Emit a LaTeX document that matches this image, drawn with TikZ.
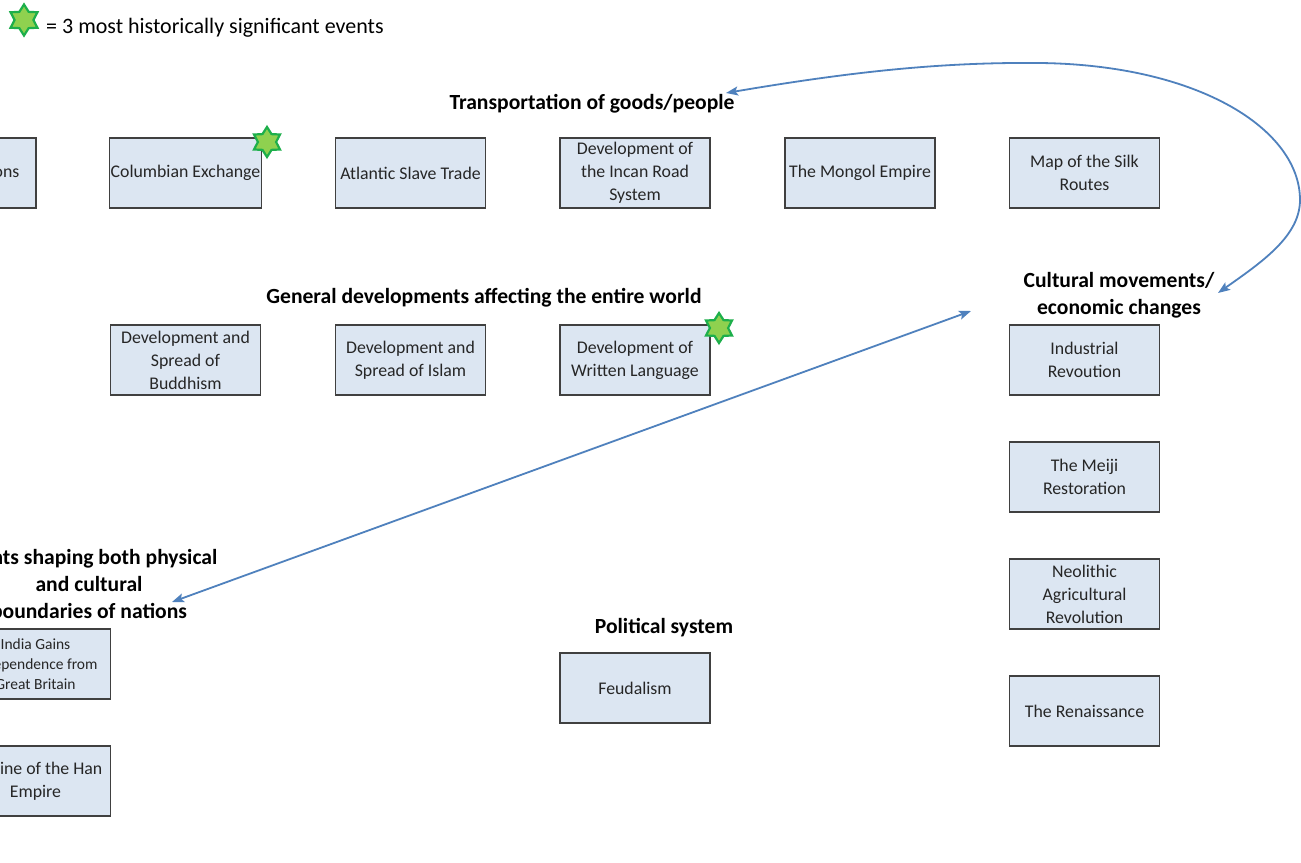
\documentclass[tikz,border=0pt]{standalone}
\usepackage{fontspec}
\setmainfont{Carlito}
\usetikzlibrary{shapes.geometric, arrows.meta}
\definecolor{boxfill}{HTML}{DCE6F2}
\definecolor{boxline}{HTML}{404040}
\definecolor{linkblue}{HTML}{4F81BD}
\definecolor{starfill}{HTML}{8FD14F}
\definecolor{staredge}{HTML}{1DAF4B}
\tikzset{
  event/.style={draw=boxline, fill=boxfill, line width=1.2pt,
    minimum width=150pt, minimum height=70pt, inner sep=1pt,
    align=center, font=\fontsize{17.8}{23}\selectfont, text=black!85},
  smallevent/.style={event, font=\fontsize{15.5}{20}\selectfont},
  heading/.style={align=center, font=\fontsize{21.6}{27}\selectfont\bfseries, inner sep=0pt},
  keystar/.style={star, star points=6, star point ratio=1.65, fill=starfill,
    draw=staredge, line width=2.2pt, minimum size=30pt, inner sep=0pt},
  link/.style={draw=linkblue, line width=1.8pt,
    {Stealth[length=12pt,width=9pt,inset=2.5pt]}-{Stealth[length=12pt,width=9pt,inset=2.5pt]}}
}
\begin{document}
\begin{tikzpicture}[x=1pt, y=-1pt]
\useasboundingbox (0,0) rectangle (1301,862);
\fill[white] (0,0) rectangle (1301,862);
\clip (0,0) rectangle (1301,862);

% legend
\node[keystar, minimum size=31pt] (legstar) at (24,20) {};
\node[anchor=west, font=\fontsize{22}{24}\selectfont, inner sep=0pt] (legtext) at (46,28) {= 3 most historically significant events};

% transportation row
\node[heading] (transport) at (592,104) {Transportation of goods/people};
\node[event] (migrations) at (-39,173) {Early Migrations};
\node[event] (columbian) at (185.5,173) {Columbian Exchange};
\node[event] (slave) at (410.5,173) {Atlantic Slave Trade};
\node[event] (incan) at (635,173) {Development of\\the Incan Road\\System};
\node[event] (mongol) at (860,173) {The Mongol Empire};
\node[event] (silk) at (1084.5,173) {Map of the Silk\\Routes};

% general developments row
\node[heading] (general) at (484,298) {General developments affecting the entire world};
\node[event] (buddhism) at (185.5,360) {Development and\\Spread of\\Buddhism};
\node[event] (islam) at (410.5,360) {Development and\\Spread of Islam};
\node[event] (writing) at (635,360) {Development of\\Written Language};

% cultural / economic column
\node[heading] (cultural) at (1119,295.5) {Cultural movements/\\economic changes};
\node[event] (industrial) at (1084.5,360) {Industrial\\Revoution};
\node[event] (meiji) at (1084.5,477) {The Meiji\\Restoration};
\node[event] (neolithic) at (1084.5,594) {Neolithic\\Agricultural\\Revolution};
\node[event] (renaissance) at (1084.5,711) {The Renaissance};

% political system
\node[heading] (political) at (664,628) {Political system};
\node[event] (feudalism) at (635,688) {Feudalism};

% boundaries of nations
\node[heading] (borders) at (89,583.5) {Events shaping both physical\\and cultural\\boundaries of nations};
\node[smallevent] (india) at (35.5,664) {India Gains\\Independence from\\Great Britain};
\node[event] (han) at (35.5,781) {Decline of the Han\\Empire};

% stars marking key events
\node[keystar] (star1) at (267,142) {};
\node[keystar] (star2) at (719,328) {};

% links between groups
\coordinate (tA) at (726,93);
\coordinate (cA) at (1218,293);
\draw[link] (tA) .. controls (850,72) and (940,62) .. (1040,63)
  .. controls (1200,65) and (1300,130) .. (1300,200)
  .. controls (1300,236) and (1262,262) .. (cA);
\coordinate (cB) at (971,311);
\coordinate (bB) at (172,602);
\draw[link] (cB) -- (bB);
\end{tikzpicture}
\end{document}
